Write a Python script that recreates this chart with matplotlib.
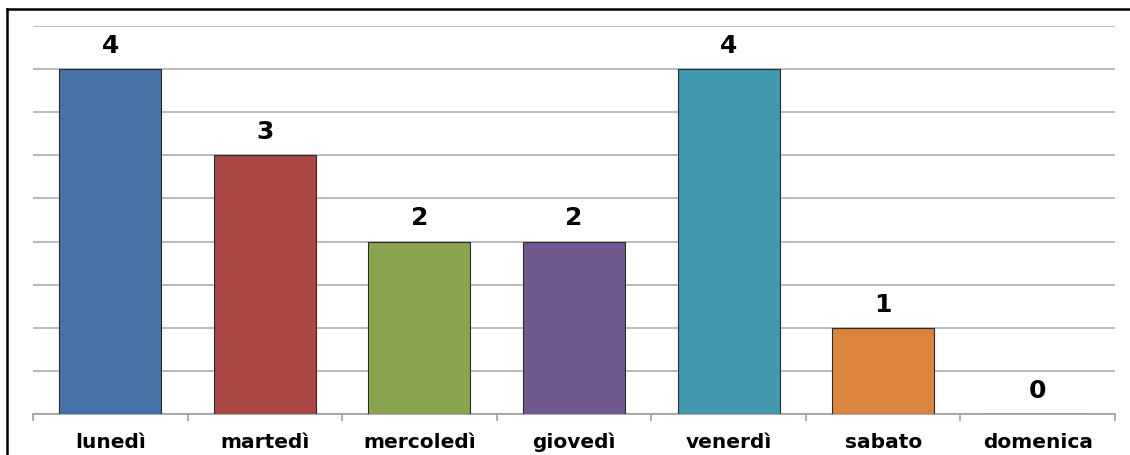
import matplotlib.pyplot as plt
import numpy as np
from matplotlib.lines import Line2D

days = ['lunedì', 'martedì', 'mercoledì', 'giovedì', 'venerdì', 'sabato', 'domenica']
counts = [4, 3, 2, 2, 4, 1, 0]
colors = ['#4672A8', '#A94744', '#89A54E', '#71588F', '#4198AF', '#DB843D', '#A4B6DA']

fig = plt.figure(figsize=(11.3, 4.56), dpi=100)
ax = fig.add_axes([33 / 1130, 1 - 415 / 456, (1115 - 33) / 1130, (415 - 27) / 456])

x = np.arange(len(days))
bars = ax.bar(x, counts, width=0.66, color=colors, edgecolor='#2b2b2b', linewidth=0.8, zorder=3)

for xi, v in zip(x, counts):
    ax.text(xi, v + 0.14, str(v), ha='center', va='bottom',
            fontsize=18, fontweight='bold', color='black')

ax.set_xlim(-0.5, len(days) - 0.5)
ax.set_ylim(0, 4.5)
ax.set_yticks(np.arange(0, 4.51, 0.5))
ax.set_yticklabels([])
ax.tick_params(axis='y', length=0)
ax.grid(axis='y', color='#a8a8a8', linewidth=1.1, zorder=0)

ax.set_xticks(x)
ax.set_xticklabels(days, fontsize=14.5, fontweight='bold')
ax.tick_params(axis='x', which='major', length=0, pad=23.5)
for lbl in ax.get_xticklabels():
    lbl.set_verticalalignment('baseline')
ax.set_xticks(np.arange(-0.5, len(days), 1), minor=True)
ax.tick_params(axis='x', which='minor', length=5, color='#a0a0a0', width=1.2)

for s in ['top', 'right', 'left']:
    ax.spines[s].set_visible(False)
ax.spines['bottom'].set_color('#a0a0a0')
ax.spines['bottom'].set_linewidth(1.2)

# outer chart frame
fig.add_artist(Line2D([7 / 1130, 7 / 1130], [0, 1 - 10 / 456], color='black', linewidth=1.8, transform=fig.transFigure))
fig.add_artist(Line2D([7 / 1130, 1], [1 - 10 / 456, 1 - 10 / 456], color='black', linewidth=1.8, transform=fig.transFigure))

fig.savefig('out.png', dpi=100)
